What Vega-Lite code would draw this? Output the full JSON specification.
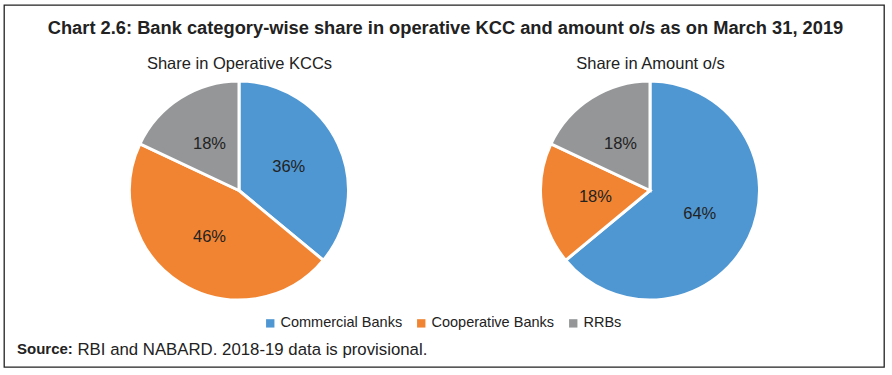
{
  "$schema": "https://vega.github.io/schema/vega-lite/v6.json",
  "width": 880,
  "height": 362,
  "autosize": {"type": "none"},
  "padding": {"left": 4, "top": 5, "right": 8, "bottom": 8},
  "background": "white",
  "config": {
    "font": "Liberation Sans",
    "view": {"stroke": "#222222", "strokeWidth": 1.3}
  },
  "title": {
    "text": "Source:",
    "orient": "bottom",
    "anchor": "start",
    "frame": "group",
    "offset": -13,
    "baseline": "alphabetic",
    "dx": 13,
    "fontSize": 15,
    "fontWeight": "bold",
    "color": "#222222"
  },
  "data": {
    "values": [
      {"panel": "Share in Operative KCCs", "bank": "Commercial Banks", "share": 0.36},
      {"panel": "Share in Operative KCCs", "bank": "Cooperative Banks", "share": 0.46},
      {"panel": "Share in Operative KCCs", "bank": "RRBs", "share": 0.18},
      {"panel": "Share in Amount o/s", "bank": "Commercial Banks", "share": 0.64},
      {"panel": "Share in Amount o/s", "bank": "Cooperative Banks", "share": 0.18},
      {"panel": "Share in Amount o/s", "bank": "RRBs", "share": 0.18}
    ]
  },
  "encoding": {
    "x": {
      "field": "panel",
      "type": "nominal",
      "scale": {"type": "point", "padding": 0, "domain": ["Share in Operative KCCs", "Share in Amount o/s"], "range": [235, 646]},
      "axis": {
        "orient": "top",
        "offset": -63,
        "domain": false,
        "ticks": false,
        "grid": false,
        "labelPadding": 0,
        "labelBaseline": "alphabetic",
        "labelFontSize": 16.5,
        "labelColor": "#222222",
        "labelAngle": 0,
        "labelLimit": 0,
        "labelOverlap": false,
        "title": "Chart 2.6: Bank category-wise share in operative KCC and amount o/s as on March 31, 2019",
        "titleFontSize": 18.3,
        "titleFontWeight": "bold",
        "titleColor": "#222222",
        "titleX": 441,
        "titleY": -35,
        "titleBaseline": "alphabetic",
        "titleAlign": "center",
        "titleLimit": 0
      }
    },
    "y": {
      "field": "panel",
      "type": "nominal",
      "scale": {"type": "point", "padding": 0, "range": [185.5, 185.5]},
      "axis": {
        "orient": "left",
        "domain": false,
        "ticks": false,
        "labels": false,
        "grid": false,
        "title": "RBI and NABARD. 2018-19 data is provisional.",
        "titleAngle": 0,
        "titleAlign": "left",
        "titleBaseline": "alphabetic",
        "titleX": 73,
        "titleY": 349,
        "titleFontSize": 16.8,
        "titleFontWeight": "normal",
        "titleColor": "#222222",
        "titleLimit": 0
      }
    },
    "theta": {"field": "share", "type": "quantitative", "stack": true, "scale": {"domain": [0, 1]}},
    "order": {"field": "bank", "type": "ordinal", "sort": "ascending"}
  },
  "layer": [
    {
      "transform": [{"filter": "datum.panel === 'Share in Operative KCCs'"}],
      "layer": [
        {
          "mark": {"type": "arc", "outerRadius": 109.5, "stroke": "white", "strokeWidth": 3},
          "encoding": {
            "color": {
              "field": "bank",
              "type": "nominal",
              "scale": {"domain": ["Commercial Banks", "Cooperative Banks", "RRBs"], "range": ["#4F97D2", "#F18432", "#949698"]},
              "legend": {
                "orient": "none",
                "legendX": 259,
                "legendY": 311,
                "direction": "horizontal",
                "title": null,
                "symbolType": "square",
                "symbolSize": 70,
                "symbolStrokeWidth": 0,
                "labelFontSize": 14.5,
                "labelColor": "#222222",
                "labelOffset": 3,
                "columnPadding": 11
              }
            }
          }
        },
        {
          "mark": {"type": "text", "radius": 55, "fontSize": 16.5, "fill": "#222222"},
          "encoding": {
            "detail": {"field": "bank", "type": "nominal"},
            "text": {"field": "share", "type": "quantitative", "format": ".0%"}
          }
        }
      ]
    },
    {
      "transform": [{"filter": "datum.panel === 'Share in Amount o/s'"}],
      "layer": [
        {
          "mark": {"type": "arc", "outerRadius": 109.5, "stroke": "white", "strokeWidth": 3},
          "encoding": {
            "color": {"field": "bank", "type": "nominal"}
          }
        },
        {
          "mark": {"type": "text", "radius": 55, "fontSize": 16.5, "fill": "#222222"},
          "encoding": {
            "detail": {"field": "bank", "type": "nominal"},
            "text": {"field": "share", "type": "quantitative", "format": ".0%"}
          }
        }
      ]
    }
  ]
}
